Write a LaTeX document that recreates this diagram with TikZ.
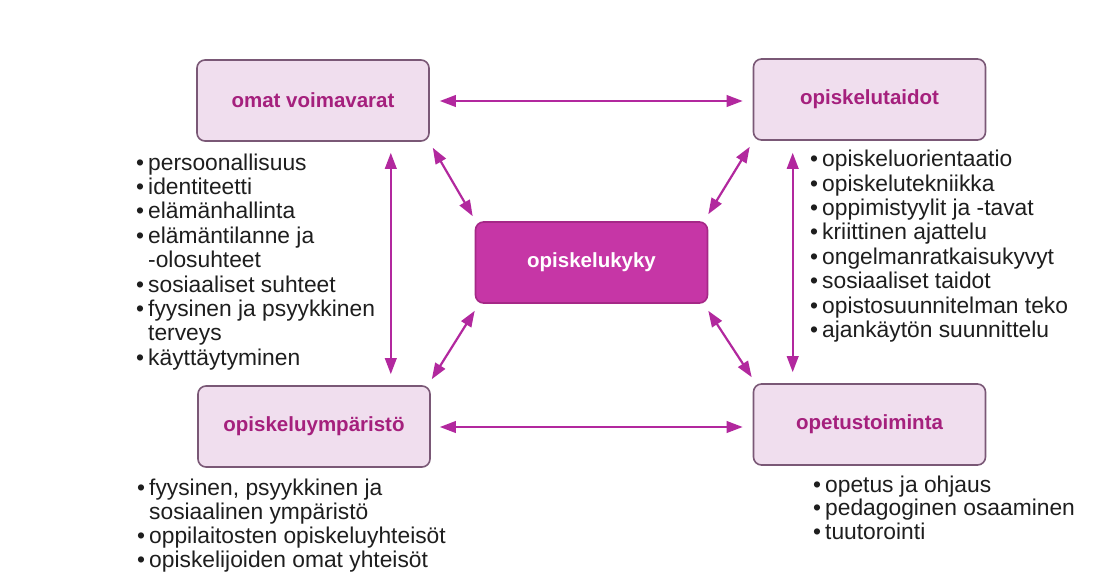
\documentclass[tikz,border=0pt]{standalone}
\usepackage{fontspec}
\setmainfont{Liberation Sans}
\usetikzlibrary{arrows.meta,calc}
\definecolor{boxfill}{RGB}{240,222,238}
\definecolor{boxline}{RGB}{122,88,118}
\definecolor{titlecol}{RGB}{165,32,125}
\definecolor{hubfill}{RGB}{198,54,166}
\definecolor{hubline}{RGB}{165,40,135}
\definecolor{arrcol}{RGB}{178,40,158}
\definecolor{txtcol}{RGB}{30,30,30}
\newcommand\lbul{\makebox[12pt][l]{\textbullet}}
\newcommand\lind{\hspace*{12pt}}
\begin{document}
\begin{tikzpicture}[x=1pt,y=-1pt,
  topicbox/.style={rectangle, rounded corners=8pt, minimum width=232pt, minimum height=81pt,
    draw=boxline, line width=1.6pt, fill=boxfill, text=titlecol,
    font=\fontsize{20.5}{24}\selectfont\bfseries},
  hubbox/.style={topicbox, draw=hubline, fill=hubfill, text=white},
  listtext/.style={inner sep=0pt, anchor=base west, text=txtcol,
    font=\fontsize{22.8}{24.4}\selectfont},
  arr/.style={draw=arrcol, line width=2.2pt,
    {Triangle[length=16pt,width=11.5pt]}-{Triangle[length=16pt,width=11.5pt]}, fill=arrcol}
]
\useasboundingbox[fill=white] (0,0) rectangle (1109,573);

\node[topicbox] (A) at (313,100.5) {omat voimavarat};
\node[topicbox] (B) at (869.5,99.5) {opiskelutaidot};
\node[hubbox]   (C) at (591.5,262.5) {opiskelukyky};
\node[topicbox] (D) at (314,426.5) {opiskeluympäristö};
\node[topicbox] (E) at (869.5,424.5) {opetustoiminta};

% connectors
\draw[arr] ($(A.east)+(10,0.5)$) -- ($(A.east -| B.west)+(-10,0.5)$);
\draw[arr] ($(D.east)+(9,0.5)$) -- ($(D.east -| E.west)+(-10,0.5)$);
\draw[arr] ($(A.south east)+(-39,11)$) -- ($(D.north east)+(-40,-11)$);
\draw[arr] ($(B.south west)+(40,12)$) -- ($(E.north west)+(40,-11)$);
\draw[arr] ($(A.south east)+(3,6)$) -- ($(C.north west)+(-2,-5)$);
\draw[arr] ($(B.south west)+(-3,6)$) -- ($(C.north east)+(0,-7)$);
\draw[arr] ($(C.south west)+(0,7)$) -- ($(D.north east)+(1,-6)$);
\draw[arr] ($(C.south east)+(0,7)$) -- ($(E.north west)+(-1,-6)$);

% lists
\node[listtext] (LA) at (136,170) {\begin{tabular}[t]{@{}l@{}}
\lbul persoonallisuus\\
\lbul identiteetti\\
\lbul elämänhallinta\\
\lbul elämäntilanne ja\\
\lind -olosuhteet\\
\lbul sosiaaliset suhteet\\
\lbul fyysinen ja psyykkinen\\
\lind terveys\\
\lbul käyttäytyminen
\end{tabular}};

\node[listtext] (LB) at (810,166.7) {\begin{tabular}[t]{@{}l@{}}
\lbul opiskeluorientaatio\\
\lbul opiskelutekniikka\\
\lbul oppimistyylit ja -tavat\\
\lbul kriittinen ajattelu\\
\lbul ongelmanratkaisukyvyt\\
\lbul sosiaaliset taidot\\
\lbul opistosuunnitelman teko\\
\lbul ajankäytön suunnittelu
\end{tabular}};

\node[listtext, font=\fontsize{22.8}{24}\selectfont] (LD) at (137,495) {\begin{tabular}[t]{@{}l@{}}
\lbul fyysinen, psyykkinen ja\\
\lind sosiaalinen ympäristö\\
\lbul oppilaitosten opiskeluyhteisöt\\
\lbul opiskelijoiden omat yhteisöt
\end{tabular}};

\node[listtext, font=\fontsize{22.8}{23.6}\selectfont] (LE) at (813,492) {\begin{tabular}[t]{@{}l@{}}
\lbul opetus ja ohjaus\\
\lbul pedagoginen osaaminen\\
\lbul tuutorointi
\end{tabular}};
\end{tikzpicture}
\end{document}
